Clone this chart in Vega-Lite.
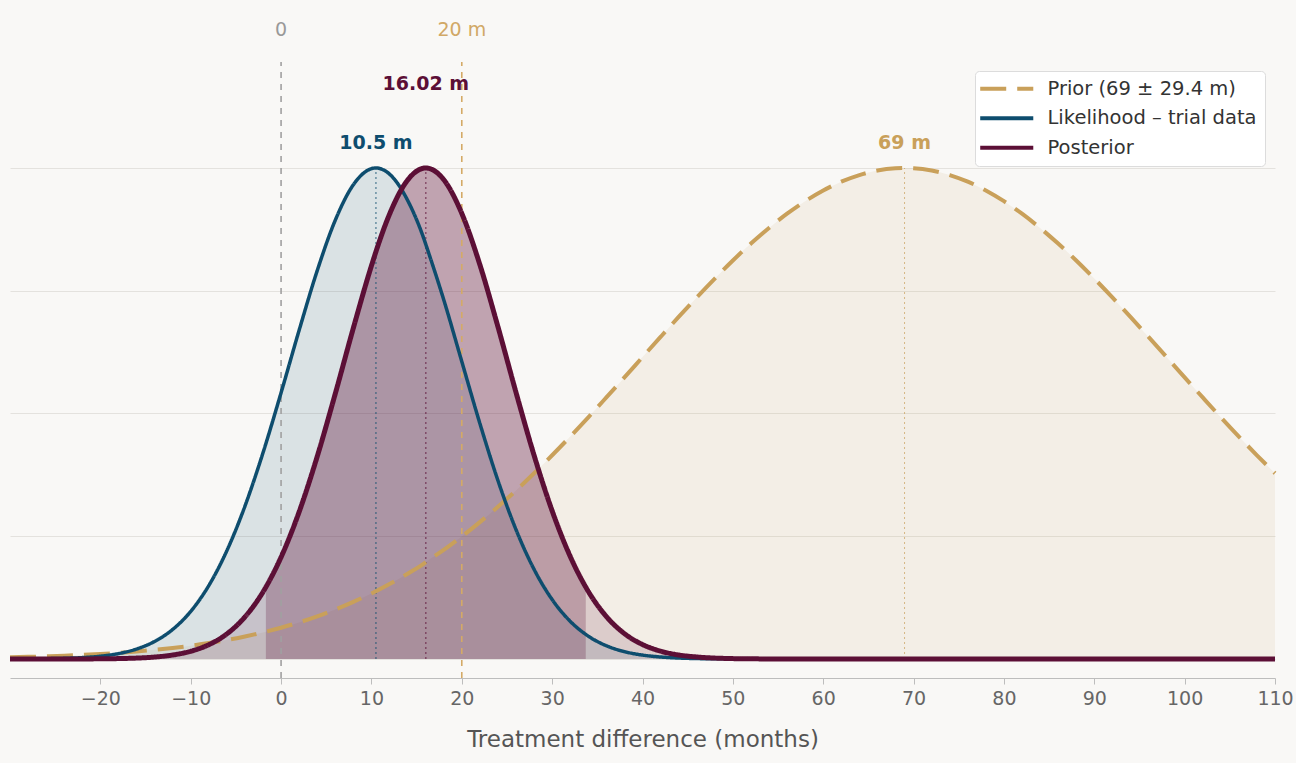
{
  "$schema": "https://vega.github.io/schema/vega-lite/v6.json",
  "width": 1265,
  "height": 672,
  "autosize": {"type": "none"},
  "padding": {"left": 10, "top": 6, "right": 21, "bottom": 85},
  "background": "#F9F8F6",
  "config": {
    "font": "DejaVu Sans",
    "view": {"stroke": null},
    "axisY": {"labels": false, "ticks": false, "domain": false, "grid": true, "gridColor": "#E4E2DE", "gridWidth": 1, "title": null},
    "legend": {
      "orient": "none", "legendX": 965, "legendY": 65, "fillColor": "#FFFFFF", "strokeColor": "#DCDCDC",
      "cornerRadius": 4, "padding": 8, "symbolType": "M-4,0L4,0", "symbolSize": 176, "symbolStrokeWidth": 4, "symbolOffset": 14,
      "labelFontSize": 19.5, "labelColor": "#333333", "labelOffset": 31, "rowPadding": 8.5, "labelLimit": 400
    }
  },
  "datasets": {
    "curves": [
      {"x": -30, "prior": 0.00345, "lik": 0.00011, "post": 0},
      {"x": -28, "prior": 0.00433, "lik": 0.00027, "post": 0.00001},
      {"x": -26, "prior": 0.0054, "lik": 0.00061, "post": 0.00002},
      {"x": -24, "prior": 0.00671, "lik": 0.00135, "post": 0.00005},
      {"x": -22, "prior": 0.00831, "lik": 0.00284, "post": 0.00014},
      {"x": -20, "prior": 0.01024, "lik": 0.00572, "post": 0.00035},
      {"x": -18, "prior": 0.01255, "lik": 0.011, "post": 0.00083},
      {"x": -16, "prior": 0.01531, "lik": 0.02026, "post": 0.00186},
      {"x": -14, "prior": 0.0186, "lik": 0.03572, "post": 0.00399},
      {"x": -12, "prior": 0.02248, "lik": 0.06015, "post": 0.00812},
      {"x": -10, "prior": 0.02704, "lik": 0.09698, "post": 0.01576},
      {"x": -8, "prior": 0.03239, "lik": 0.1496, "post": 0.0291},
      {"x": -6, "prior": 0.03862, "lik": 0.2206, "post": 0.05116},
      {"x": -4, "prior": 0.04582, "lik": 0.3112, "post": 0.0857},
      {"x": -2, "prior": 0.05414, "lik": 0.42, "post": 0.1366},
      {"x": 0, "prior": 0.06367, "lik": 0.5422, "post": 0.2074},
      {"x": 2, "prior": 0.07451, "lik": 0.6696, "post": 0.2997},
      {"x": 4, "prior": 0.08679, "lik": 0.7909, "post": 0.4124},
      {"x": 6, "prior": 0.1007, "lik": 0.8937, "post": 0.5404},
      {"x": 8, "prior": 0.1162, "lik": 0.9659, "post": 0.6742},
      {"x": 10, "prior": 0.1335, "lik": 0.9986, "post": 0.8008},
      {"x": 10.5, "prior": 0.1381, "lik": 1, "post": 0.8296},
      {"x": 12, "prior": 0.1527, "lik": 0.9876, "post": 0.9057},
      {"x": 14, "prior": 0.1738, "lik": 0.9343, "post": 0.9753},
      {"x": 16, "prior": 0.1969, "lik": 0.8454, "post": 1},
      {"x": 16.02, "prior": 0.1972, "lik": 0.8443, "post": 1},
      {"x": 18, "prior": 0.2221, "lik": 0.7318, "post": 0.9763},
      {"x": 20, "prior": 0.2494, "lik": 0.6059, "post": 0.9075},
      {"x": 22, "prior": 0.2787, "lik": 0.4799, "post": 0.8032},
      {"x": 24, "prior": 0.31, "lik": 0.3636, "post": 0.6768},
      {"x": 26, "prior": 0.3431, "lik": 0.2635, "post": 0.543},
      {"x": 28, "prior": 0.3782, "lik": 0.1826, "post": 0.4149},
      {"x": 30, "prior": 0.4149, "lik": 0.1211, "post": 0.3018},
      {"x": 32, "prior": 0.453, "lik": 0.0768, "post": 0.209},
      {"x": 34, "prior": 0.4923, "lik": 0.0466, "post": 0.1378},
      {"x": 36, "prior": 0.5327, "lik": 0.027, "post": 0.0865},
      {"x": 38, "prior": 0.5735, "lik": 0.015, "post": 0.0517},
      {"x": 40, "prior": 0.6148, "lik": 0.008, "post": 0.0295},
      {"x": 42, "prior": 0.6559, "lik": 0.0041, "post": 0.016},
      {"x": 44, "prior": 0.6966, "lik": 0.002, "post": 0.0082},
      {"x": 46, "prior": 0.7364, "lik": 0.0009, "post": 0.0041},
      {"x": 48, "prior": 0.7748, "lik": 0.0004, "post": 0.0019},
      {"x": 50, "prior": 0.8116, "lik": 0.0002, "post": 0.0008},
      {"x": 52, "prior": 0.846, "lik": 0.0001, "post": 0.0004},
      {"x": 54, "prior": 0.8779, "lik": 0, "post": 0.0001},
      {"x": 56, "prior": 0.9069, "lik": 0, "post": 0.00006},
      {"x": 58, "prior": 0.9324, "lik": 0, "post": 0},
      {"x": 60, "prior": 0.9542, "lik": 0, "post": 0},
      {"x": 62, "prior": 0.9721, "lik": 0, "post": 0},
      {"x": 64, "prior": 0.9856, "lik": 0, "post": 0},
      {"x": 66, "prior": 0.9948, "lik": 0, "post": 0},
      {"x": 68, "prior": 0.9994, "lik": 0, "post": 0},
      {"x": 69, "prior": 1, "lik": 0, "post": 0},
      {"x": 70, "prior": 0.9994, "lik": 0, "post": 0},
      {"x": 72, "prior": 0.9948, "lik": 0, "post": 0},
      {"x": 74, "prior": 0.9856, "lik": 0, "post": 0},
      {"x": 76, "prior": 0.9721, "lik": 0, "post": 0},
      {"x": 78, "prior": 0.9542, "lik": 0, "post": 0},
      {"x": 80, "prior": 0.9324, "lik": 0, "post": 0},
      {"x": 82, "prior": 0.9069, "lik": 0, "post": 0},
      {"x": 84, "prior": 0.8779, "lik": 0, "post": 0},
      {"x": 86, "prior": 0.846, "lik": 0, "post": 0},
      {"x": 88, "prior": 0.8116, "lik": 0, "post": 0},
      {"x": 90, "prior": 0.7748, "lik": 0, "post": 0},
      {"x": 92, "prior": 0.7364, "lik": 0, "post": 0},
      {"x": 94, "prior": 0.6966, "lik": 0, "post": 0},
      {"x": 96, "prior": 0.6559, "lik": 0, "post": 0},
      {"x": 98, "prior": 0.6148, "lik": 0, "post": 0},
      {"x": 100, "prior": 0.5735, "lik": 0, "post": 0},
      {"x": 102, "prior": 0.5327, "lik": 0, "post": 0},
      {"x": 104, "prior": 0.4923, "lik": 0, "post": 0},
      {"x": 106, "prior": 0.453, "lik": 0, "post": 0},
      {"x": 108, "prior": 0.4149, "lik": 0, "post": 0},
      {"x": 110, "prior": 0.3782, "lik": 0, "post": 0}
    ],
    "ci": [
      {"x": -1.68, "post": 0.1465},
      {"x": 0, "post": 0.2074},
      {"x": 2, "post": 0.2997},
      {"x": 4, "post": 0.4124},
      {"x": 6, "post": 0.5404},
      {"x": 8, "post": 0.6742},
      {"x": 10, "post": 0.8008},
      {"x": 10.5, "post": 0.8296},
      {"x": 12, "post": 0.9057},
      {"x": 14, "post": 0.9753},
      {"x": 16, "post": 1},
      {"x": 16.02, "post": 1},
      {"x": 18, "post": 0.9763},
      {"x": 20, "post": 0.9075},
      {"x": 22, "post": 0.8032},
      {"x": 24, "post": 0.6768},
      {"x": 26, "post": 0.543},
      {"x": 28, "post": 0.4149},
      {"x": 30, "post": 0.3018},
      {"x": 32, "post": 0.209},
      {"x": 33.72, "post": 0.1465}
    ]
  },
  "encoding": {
    "x": {
      "field": "x", "type": "quantitative",
      "scale": {"domain": [-30, 110], "nice": false, "zero": false},
      "axis": {
        "values": [-20, -10, 0, 10, 20, 30, 40, 50, 60, 70, 80, 90, 100, 110],
        "title": "Treatment difference (months)", "grid": false,
        "domainColor": "#BDBDBD", "tickColor": "#BDBDBD", "tickSize": 6,
        "labelColor": "#666666", "labelFontSize": 19, "labelPadding": 5, "labelFlush": false, "labelOverlap": false,
        "titleFontSize": 23, "titleColor": "#555555", "titleFontWeight": "normal", "titlePadding": 20
      }
    }
  },
  "layer": [
    {
      "data": {"name": "curves"},
      "mark": {"type": "area", "color": "#C9A05A", "opacity": 0.1, "interpolate": "monotone"},
      "encoding": {"y": {"field": "prior", "type": "quantitative", "scale": {"domain": [-0.0387, 1.3299], "nice": false, "zero": false}, "axis": {"values": [0, 0.25, 0.5, 0.75, 1], "title": null}}}
    },
    {
      "data": {"name": "curves"},
      "mark": {"type": "area", "color": "#0E4D6E", "opacity": 0.13, "interpolate": "monotone"},
      "encoding": {"y": {"field": "lik", "type": "quantitative", "title": null}}
    },
    {
      "data": {"name": "curves"},
      "mark": {"type": "area", "color": "#5C0F36", "opacity": 0.15, "interpolate": "monotone"},
      "encoding": {"y": {"field": "post", "type": "quantitative", "title": null}}
    },
    {
      "data": {"name": "ci"},
      "mark": {"type": "area", "color": "#5C0F36", "opacity": 0.25, "interpolate": "monotone"},
      "encoding": {"y": {"field": "post", "type": "quantitative", "title": null}}
    },
    {
      "data": {"values": [{"x": 0}]},
      "mark": {"type": "rule", "color": "#A0A0A0", "strokeDash": [6, 6], "strokeWidth": 1.6},
      "encoding": {"y": {"datum": -0.0387, "type": "quantitative"}, "y2": {"datum": 1.216}}
    },
    {
      "data": {"values": [{"x": 20}]},
      "mark": {"type": "rule", "color": "#D4AA66", "strokeDash": [6, 6], "strokeWidth": 1.6},
      "encoding": {"y": {"datum": -0.0387, "type": "quantitative"}, "y2": {"datum": 1.216}}
    },
    {
      "data": {"values": [{"x": 10.5}]},
      "mark": {"type": "rule", "color": "#0E4D6E", "strokeDash": [2, 3], "strokeWidth": 1.2, "opacity": 0.7},
      "encoding": {"y": {"datum": 0, "type": "quantitative"}, "y2": {"datum": 1}}
    },
    {
      "data": {"values": [{"x": 16.02}]},
      "mark": {"type": "rule", "color": "#5C0F36", "strokeDash": [2, 3], "strokeWidth": 1.2, "opacity": 0.7},
      "encoding": {"y": {"datum": 0, "type": "quantitative"}, "y2": {"datum": 1}}
    },
    {
      "data": {"values": [{"x": 69}]},
      "mark": {"type": "rule", "color": "#C9A05A", "strokeDash": [2, 3], "strokeWidth": 1, "opacity": 0.7},
      "encoding": {"y": {"datum": 0, "type": "quantitative"}, "y2": {"datum": 1}}
    },
    {
      "data": {"name": "curves"},
      "mark": {"type": "line", "strokeWidth": 4, "interpolate": "monotone", "strokeCap": "butt"},
      "encoding": {
        "y": {"field": "prior", "type": "quantitative", "title": null},
        "color": {"datum": "Prior (69 ± 29.4 m)", "scale": {"domain": ["Prior (69 ± 29.4 m)", "Likelihood – trial data", "Posterior"], "range": ["#C9A05A", "#0E4D6E", "#5C0F36"]}, "legend": {"title": null}},
        "strokeDash": {"datum": "Prior (69 ± 29.4 m)", "scale": {"domain": ["Prior (69 ± 29.4 m)", "Likelihood – trial data", "Posterior"], "range": [[26, 11], [1, 0], [1, 0]]}, "legend": {"title": null}}
      }
    },
    {
      "data": {"name": "curves"},
      "mark": {"type": "line", "strokeWidth": 3.5, "interpolate": "monotone"},
      "encoding": {
        "y": {"field": "lik", "type": "quantitative", "title": null},
        "color": {"datum": "Likelihood – trial data"},
        "strokeDash": {"datum": "Likelihood – trial data"}
      }
    },
    {
      "data": {"name": "curves"},
      "mark": {"type": "line", "strokeWidth": 5, "interpolate": "monotone"},
      "encoding": {
        "y": {"field": "post", "type": "quantitative", "title": null},
        "color": {"datum": "Posterior"},
        "strokeDash": {"datum": "Posterior"}
      }
    },
    {
      "data": {"values": [{"x": 0, "label": "0"}]},
      "mark": {"type": "text", "color": "#999999", "fontSize": 19, "baseline": "middle"},
      "encoding": {"y": {"datum": 1.281, "type": "quantitative"}, "text": {"field": "label"}}
    },
    {
      "data": {"values": [{"x": 20, "label": "20 m"}]},
      "mark": {"type": "text", "color": "#D1A866", "fontSize": 19, "baseline": "middle"},
      "encoding": {"y": {"datum": 1.281, "type": "quantitative"}, "text": {"field": "label"}}
    },
    {
      "data": {"values": [{"x": 16.02, "label": "16.02 m"}]},
      "mark": {"type": "text", "color": "#5C0F36", "fontSize": 19, "fontWeight": "bold", "baseline": "middle"},
      "encoding": {"y": {"datum": 1.171, "type": "quantitative"}, "text": {"field": "label"}}
    },
    {
      "data": {"values": [{"x": 10.5, "label": "10.5 m"}]},
      "mark": {"type": "text", "color": "#0E4D6E", "fontSize": 19, "fontWeight": "bold", "baseline": "middle"},
      "encoding": {"y": {"datum": 1.051, "type": "quantitative"}, "text": {"field": "label"}}
    },
    {
      "data": {"values": [{"x": 69, "label": "69 m"}]},
      "mark": {"type": "text", "color": "#C9A05A", "fontSize": 19, "fontWeight": "bold", "baseline": "middle"},
      "encoding": {"y": {"datum": 1.051, "type": "quantitative"}, "text": {"field": "label"}}
    }
  ]
}
